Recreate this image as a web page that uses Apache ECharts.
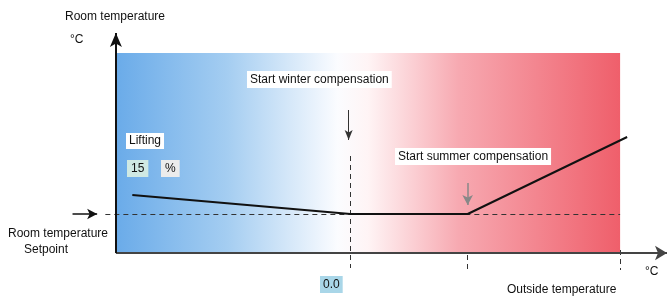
<!DOCTYPE html>
<html>
<head>
<meta charset="utf-8">
<script src="https://cdn.jsdelivr.net/npm/echarts@6/dist/echarts.min.js"></script>
<style>
  html, body { margin: 0; padding: 0; background: #fff; }
  #chart { width: 668px; height: 297px; }
</style>
</head>
<body>
<div id="chart"></div>
<script>
// heating curve: outside temp -> room temp
const outsideTemp = [-18.6, 0, 10, 23.6];
const roomTemp = [5.8, 3.9, 3.9, 11.6];
const setpoint = 3.9;
const winterStart = 0;
const summerStart = 10;
const rangeX = [-20, 23];   // coloured band, outside temp
const rangeY = [0, 20];     // coloured band, room temp
const xLimits = [-24, 27];
const yLimits = [-2, 22];

var dom = document.getElementById('chart');
var myChart = echarts.init(dom, null, { renderer: 'canvas' });

const font = '"Liberation Sans", Arial, sans-serif';
const dashed = { color: '#333', width: 1, type: [5, 4] };

function txt(x, y, text, opts) {
  return {
    type: 'text', left: x, top: y, silent: true, z: 100,
    style: Object.assign({ text: text, font: '12px ' + font, fill: '#111' }, opts || {})
  };
}

var option = {
  animation: false,
  grid: { left: 69, right: 1, top: 33, bottom: 24 },
  xAxis: { type: 'value', min: xLimits[0], max: xLimits[1], show: false },
  yAxis: { type: 'value', min: yLimits[0], max: yLimits[1], show: false },
  series: [
    {
      type: 'line',
      clip: false,
      silent: true,
      symbol: 'none',
      data: outsideTemp.map((v, i) => [v, roomTemp[i]]),
      lineStyle: { color: '#111', width: 2 },
      z: 5,
      markArea: {
        silent: true,
        itemStyle: {
          color: new echarts.graphic.LinearGradient(0, 0, 1, 0, [
            { offset: 0, color: '#6aabe9' },
            { offset: 0.22, color: '#a4cdf1' },
            { offset: 0.44, color: '#fbfcff' },
            { offset: 0.5, color: '#fff4f5' },
            { offset: 0.68, color: '#f7a9b1' },
            { offset: 1, color: '#ef5f6b' }
          ])
        },
        data: [[{ coord: [rangeX[0], rangeY[0]] }, { coord: [rangeX[1], rangeY[1]] }]]
      },
      markLine: {
        silent: true,
        symbol: 'none',
        label: { show: false },
        emphasis: { disabled: true },
        data: [
          // setpoint dashed line
          [{ coord: [-20.9, setpoint], lineStyle: dashed }, { coord: [rangeX[1], setpoint] }],
          // setpoint pointer arrow
          [{ coord: [-23.7, setpoint], lineStyle: { color: '#111', width: 1.5, type: 'solid' } },
           { coord: [-21.6, setpoint], symbol: 'arrow', symbolSize: [8, 10] }],
          // tick guides
          [{ coord: [winterStart, 9.7], lineStyle: dashed }, { coord: [winterStart, -1.5] }],
          [{ coord: [summerStart, -0.2], lineStyle: dashed }, { coord: [summerStart, -1.7] }],
          [{ coord: [rangeX[1], 0.3], lineStyle: dashed }, { coord: [rangeX[1], -1.7] }],
          // x axis
          [{ coord: [rangeX[0], 0], lineStyle: { color: '#444', width: 2, type: 'solid' } },
           { coord: [xLimits[1], 0], symbol: 'arrow', symbolSize: [11, 12] }],
          // y axis
          [{ coord: [rangeX[0], 0], lineStyle: { color: '#111', width: 2, type: 'solid' } },
           { coord: [rangeX[0], yLimits[1]], symbol: 'arrow', symbolSize: [9, 14] }],
          // winter / summer pointers
          [{ coord: [winterStart - 0.15, 14.3], lineStyle: { color: '#333', width: 1, type: 'solid' } },
           { coord: [winterStart - 0.15, 11.3], symbol: 'arrow', symbolSize: [6, 10] }],
          [{ coord: [summerStart, 7], lineStyle: { color: '#888', width: 1.5, type: 'solid' } },
           { coord: [summerStart, 4.8], symbol: 'arrow', symbolSize: [8, 10] }]
        ]
      }
    }
  ],
  graphic: [
    txt(65, 11, 'Room temperature'),
    txt(70, 34, '°C'),
    txt(247, 71, 'Start winter compensation', { backgroundColor: '#fff', padding: [3, 3, 2, 3] }),
    txt(126, 133, 'Lifting', { backgroundColor: '#fff', padding: [2, 3, 2, 3] }),
    txt(127, 160, '15', { backgroundColor: '#cfe9e3', padding: [3, 4, 2, 4] }),
    txt(161, 160, '%', { backgroundColor: '#ececec', padding: [3, 4, 2, 4] }),
    txt(395, 148, 'Start summer compensation', { backgroundColor: '#fff', padding: [3, 3, 2, 3] }),
    txt(8, 228, 'Room temperature'),
    txt(24, 244, 'Setpoint'),
    txt(320, 276, '0.0', { backgroundColor: '#a9d6e8', padding: [3, 3, 2, 3] }),
    txt(507, 284, 'Outside temperature'),
    txt(645, 266, '°C')
  ]
};

if (option && typeof option === 'object') {
  myChart.setOption(option);
}
window.addEventListener('resize', myChart.resize);
</script>
</body>
</html>
